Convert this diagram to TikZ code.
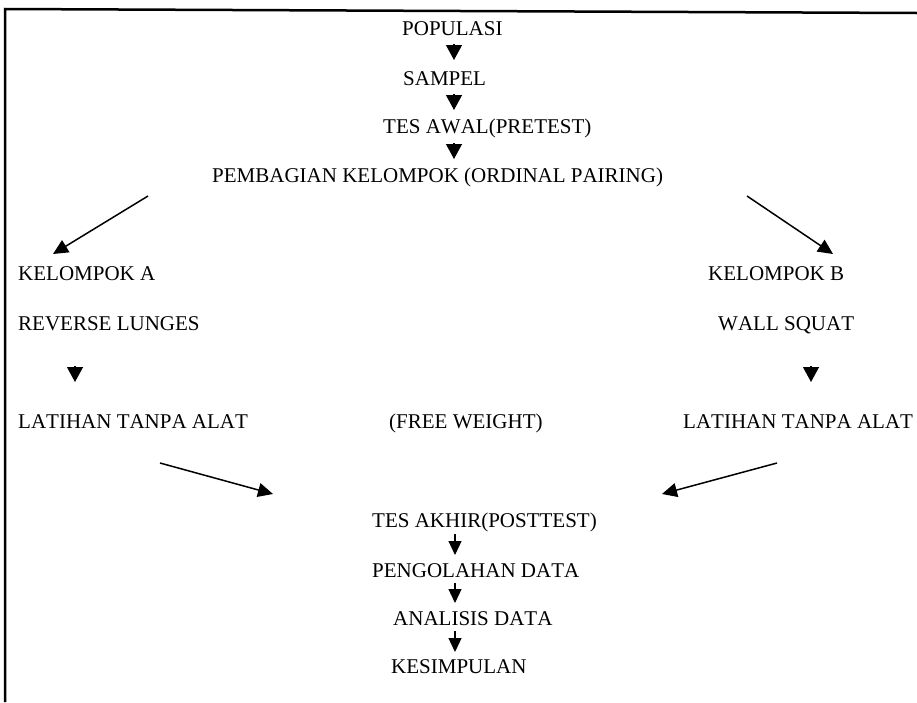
\documentclass[tikz,border=0pt]{standalone}
\usepackage{fontspec}
\setmainfont{Liberation Serif}[Kerning=Off]
\usetikzlibrary{arrows.meta}
\begin{document}
\begin{tikzpicture}[x=1pt,y=-1pt,
  txt/.style={inner sep=0pt, anchor=base west, font=\fontsize{21}{25}\selectfont},
  tri/.style={-{Triangle[length=15pt,width=16pt]}, line width=1.2pt},
  diag/.style={-{Triangle[length=15pt,width=14pt]}, line width=1.5pt},
  shortarr/.style={-{Triangle[length=14pt,width=13pt]}, line width=1.2pt},
  frame/.style={line width=2.5pt}]
\useasboundingbox (0,0) rectangle (917,702);
% frame
\coordinate (fbl) at (5,702);
\coordinate (ftl) at (5,9);
\coordinate (ftr) at (917,13);
\draw[frame] (fbl) -- (ftl) -- (ftr);
% texts
\node[txt] (pop) at (402,35) {POPULASI};
\node[txt] (sam) at (403,85) {SAMPEL};
\node[txt] (tesawal) at (383,133) {TES AWAL(PRETEST)};
\node[txt] (pemb) at (212,182) {PEMBAGIAN KELOMPOK (ORDINAL PAIRING)};
\node[txt] (kela) at (18,280) {KELOMPOK A};
\node[txt] (kelb) at (708,280) {KELOMPOK B};
\node[txt] (rev) at (18,330) {REVERSE LUNGES};
\node[txt] (wall) at (718,330) {WALL SQUAT};
\node[txt] (lata) at (18,428) {LATIHAN TANPA ALAT};
\node[txt] (free) at (389,428) {(FREE WEIGHT)};
\node[txt] (latb) at (683,428) {LATIHAN TANPA ALAT};
\node[txt] (tesakhir) at (372,527) {TES AKHIR(POSTTEST)};
\node[txt] (olah) at (372,577) {PENGOLAHAN DATA};
\node[txt] (anal) at (393,625) {ANALISIS DATA};
\node[txt] (kes) at (391,673) {KESIMPULAN};
% triangle connectors (top)
\coordinate (t1a) at (454,44); \coordinate (t1b) at (454,60);
\coordinate (t2a) at (454,94); \coordinate (t2b) at (454,110);
\coordinate (t3a) at (454,143); \coordinate (t3b) at (454,159);
\draw[tri] (t1a) -- (t1b);
\draw[tri] (t2a) -- (t2b);
\draw[tri] (t3a) -- (t3b);
% diagonal to groups
\coordinate (da1) at (148,196); \coordinate (da2) at (53,254);
\coordinate (db1) at (747,196); \coordinate (db2) at (833,254);
\draw[diag] (da1) -- (da2);
\draw[diag] (db1) -- (db2);
% side triangles
\coordinate (ta1) at (75,366); \coordinate (ta2) at (75,382);
\coordinate (tb1) at (811,366); \coordinate (tb2) at (811,382);
\draw[tri] (ta1) -- (ta2);
\draw[tri] (tb1) -- (tb2);
% converging arrows
\coordinate (ca1) at (160,463); \coordinate (ca2) at (273,494);
\coordinate (cb1) at (777,463); \coordinate (cb2) at (662,494);
\draw[diag] (ca1) -- (ca2);
\draw[diag] (cb1) -- (cb2);
% short arrows bottom
\coordinate (s1a) at (455,534); \coordinate (s1b) at (455,555);
\coordinate (s2a) at (455,583); \coordinate (s2b) at (455,603);
\coordinate (s3a) at (455,631); \coordinate (s3b) at (455,652);
\draw[shortarr] (s1a) -- (s1b);
\draw[shortarr] (s2a) -- (s2b);
\draw[shortarr] (s3a) -- (s3b);
\end{tikzpicture}
\end{document}
